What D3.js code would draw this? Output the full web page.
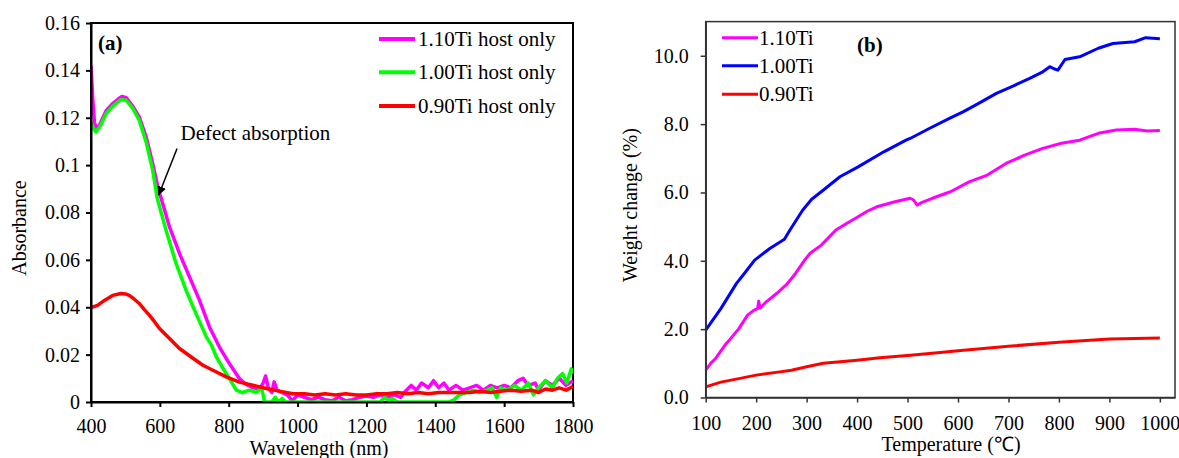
<!DOCTYPE html>
<html>
<head>
<meta charset="utf-8">
<title>Absorbance and weight change</title>
<script src="https://d3js.org/d3.v7.min.js"></script>
<style>
  body { margin: 0; background: #fff; }
  svg text { font-family: "Liberation Serif", "Times New Roman", serif; fill: #000; }
</style>
</head>
<body>
<script>
// ---- panel (a): absorbance vs wavelength ----
const waveTicks = [400, 600, 800, 1000, 1200, 1400, 1600, 1800];
const absTicks = [0, 0.02, 0.04, 0.06, 0.08, 0.1, 0.12, 0.14, 0.16];
const hostNames = ["1.10Ti host only", "1.00Ti host only", "0.90Ti host only"];

const host110 = [[400,0.142],[405,0.128],[410,0.118],[416,0.1155],[425,0.117],[444,0.123],[463,0.126],[480,0.128],
  [490,0.129],[502,0.1285],[521,0.1249],[540,0.1204],[560,0.112],[579,0.1007],[594,0.0908],[610,0.083],[628,0.0739],
  [657,0.0627],[686,0.0528],[715,0.043],[744,0.0317],[773,0.0232],[802,0.0162],[831,0.0099],[850,0.0075],[870,0.006],
  [890,0.0055],[900,0.008],[907,0.011],[915,0.006],[925,0.004],[932,0.0085],[940,0.005],[955,0.004],[970,0.003],
  [985,0.0005],[1000,0.003],[1020,0.002],[1040,0.001],[1060,0.002],[1080,0.001],[1100,0.0005],[1120,0.002],[1140,0.0005],
  [1160,0.001],[1180,0.002],[1200,0.0025],[1220,0.002],[1240,0.003],[1260,0.002],[1280,0.003],[1300,0.002],
  [1310,0.004],[1330,0.007],[1345,0.005],[1360,0.008],[1380,0.006],[1395,0.009],[1410,0.006],[1425,0.008],[1440,0.005],
  [1460,0.007],[1480,0.005],[1500,0.006],[1520,0.007],[1540,0.005],[1560,0.007],[1580,0.006],[1600,0.007],[1620,0.006],
  [1640,0.009],[1655,0.010],[1670,0.007],[1690,0.008],[1700,0.005],[1720,0.009],[1740,0.007],[1760,0.010],[1780,0.007],
  [1800,0.009]];

const host100 = [[400,0.118],[405,0.116],[414,0.114],[425,0.116],[444,0.1218],[463,0.1249],[487,0.1277],[502,0.1274],
  [521,0.124],[540,0.119],[560,0.1098],[579,0.098],[592,0.0862],[618,0.0725],[647,0.0585],[676,0.0472],[705,0.0373],
  [735,0.0275],[750,0.024],[764,0.019],[780,0.015],[793,0.012],[810,0.008],[822,0.005],[840,0.004],[860,0.005],
  [880,0.004],[895,0.006],[900,0.003],[904,0],[925,0],[935,0.002],[945,0],[955,0.0015],[965,0],[1240,0],[1253,0.002],
  [1265,0.0005],[1275,0.0015],[1290,0],[1440,0],[1455,0.001],[1470,0.003],[1490,0.004],[1510,0.005],[1530,0.004],
  [1550,0.005],[1565,0.006],[1578,0.002],[1590,0.006],[1610,0.005],[1630,0.007],[1650,0.005],[1670,0.008],[1685,0.003],
  [1700,0.006],[1720,0.009],[1740,0.006],[1755,0.010],[1770,0.012],[1782,0.008],[1795,0.014],[1800,0.012]];

const host090 = [[400,0.0399],[419,0.0408],[440,0.043],[463,0.045],[487,0.0458],[500,0.0456],[511,0.045],[525,0.0435],
  [540,0.0416],[555,0.039],[570,0.0366],[585,0.0338],[599,0.031],[628,0.0268],[657,0.0226],[691,0.019],[725,0.0155],
  [754,0.0134],[793,0.0106],[831,0.0084],[870,0.0071],[909,0.0057],[950,0.0045],[987,0.0035],[1020,0.0035],[1050,0.003],
  [1080,0.0035],[1110,0.003],[1140,0.0035],[1170,0.003],[1200,0.003],[1230,0.0035],[1260,0.0035],[1290,0.004],
  [1320,0.0035],[1350,0.004],[1380,0.0035],[1410,0.004],[1440,0.004],[1470,0.004],[1500,0.004],[1530,0.0045],
  [1560,0.004],[1590,0.0045],[1620,0.005],[1650,0.0045],[1680,0.005],[1700,0.004],[1720,0.0055],[1740,0.005],
  [1760,0.006],[1780,0.005],[1800,0.0065]];

// arrow annotation, in data units: tail, tip
const defectArrow = [[650,0.107],[596,0.0872]];
const defectLabel = [660, 0.1105];

// ---- panel (b): weight change vs temperature ----
const tempTicks = [100, 200, 300, 400, 500, 600, 700, 800, 900, 1000];
const weightTicks = [0, 2, 4, 6, 8, 10];
const tiNames = ["1.10Ti", "1.00Ti", "0.90Ti"];

const ti110 = [[100,0.80],[110,1.0],[120,1.15],[139,1.55],[148,1.7],[165,2.0],[183,2.41],[195,2.55],[203,2.6],[205,2.82],
  [208,2.62],[220,2.8],[241,3.05],[260,3.3],[278,3.63],[295,4.0],[307,4.22],[329,4.46],[345,4.7],[358,4.9],[380,5.1],
  [402,5.29],[420,5.45],[439,5.58],[475,5.73],[505,5.83],[512,5.78],[519,5.63],[530,5.72],[549,5.83],[585,6.02],
  [622,6.31],[658,6.51],[695,6.85],[732,7.09],[768,7.29],[805,7.44],[841,7.53],[878,7.73],[914,7.83],[950,7.85],
  [975,7.80],[1000,7.81]];

const ti100 = [[100,1.97],[130,2.6],[161,3.34],[175,3.6],[197,4.02],[227,4.36],[256,4.63],[267,4.9],[292,5.48],
  [310,5.8],[329,6.02],[366,6.46],[402,6.75],[453,7.19],[497,7.53],[505,7.58],[544,7.88],[585,8.18],[610,8.36],
  [640,8.6],[676,8.90],[710,9.12],[742,9.34],[768,9.53],[782,9.68],[790,9.62],[798,9.58],[812,9.89],[841,9.97],
  [878,10.22],[907,10.36],[950,10.41],[972,10.53],[1000,10.5]];

const ti090 = [[100,0.31],[130,0.45],[168,0.56],[200,0.655],[247,0.75],[270,0.8],[300,0.90],[333,1.0],[400,1.09],
  [445,1.16],[500,1.23],[565,1.32],[600,1.37],[700,1.50],[800,1.62],[900,1.71],[1000,1.74]];

const W = 1179, H = 458;
const serif = '"Liberation Serif", "Times New Roman", serif';
const svg = d3.select("body").append("svg")
    .attr("width", W)
    .attr("height", H)
    .attr("font-family", serif);
svg.append("rect").attr("width", W).attr("height", H).attr("fill", "#fff");

function styleAxis(a, col, sw) {
  a.attr("font-family", serif).attr("font-size", 20);
  a.select(".domain").attr("stroke", col).attr("stroke-width", sw);
  a.selectAll(".tick line").attr("stroke", col).attr("stroke-width", sw);
  a.selectAll("text").style("font-family", serif).style("font-size", "20px").attr("fill", "#000");
}

// ================= panel (a) =================
const xA = d3.scaleLinear().domain([400, 1800]).range([91, 573]);
const yA = d3.scaleLinear().domain([0, 0.16]).range([402, 23]);

const gA = svg.append("g");

gA.append("clipPath").attr("id", "clipA")
  .append("rect")
    .attr("x", xA(400)).attr("y", yA(0.16))
    .attr("width", xA(1800) - xA(400)).attr("height", yA(0) - yA(0.16));

gA.append("rect")
    .attr("x", xA(400)).attr("y", yA(0.16))
    .attr("width", xA(1800) - xA(400)).attr("height", yA(0) - yA(0.16))
    .attr("fill", "none").attr("stroke", "#000").attr("stroke-width", 2);

const lineA = d3.line().x(d => xA(d[0])).y(d => yA(d[1]));
const colorsA = ["#ff00ff", "#00ff00", "#ff0000"];
[host110, host100, host090].forEach((s, i) => {
  gA.append("path")
      .datum(s)
      .attr("clip-path", "url(#clipA)")
      .attr("fill", "none")
      .attr("stroke", colorsA[i])
      .attr("stroke-width", 3.5)
      .attr("stroke-linejoin", "round")
      .attr("d", lineA);
});

const axA = gA.append("g")
    .attr("transform", "translate(0," + yA(0) + ")")
    .call(d3.axisBottom(xA).tickValues(waveTicks).tickSize(5).tickSizeOuter(0).tickFormat(d => d));
axA.selectAll("text").attr("y", 31).attr("dy", 0);

const ayA = gA.append("g")
    .attr("transform", "translate(" + xA(400) + ",0)")
    .call(d3.axisLeft(yA).tickValues(absTicks).tickSize(5).tickSizeOuter(0)
      .tickFormat(d => +d.toFixed(2)).tickPadding(6));

styleAxis(axA, "#000", 2);
styleAxis(ayA, "#000", 2);

gA.append("text")
    .attr("transform", "translate(26," + 228 + ") rotate(-90)")
    .attr("text-anchor", "middle")
    .style("font-size", "20px")
    .text("Absorbance");

gA.append("text")
    .attr("x", 319).attr("y", 455)
    .attr("text-anchor", "middle")
    .style("font-size", "20px")
    .text("Wavelength (nm)");

gA.append("text")
    .attr("x", 98).attr("y", 50)
    .style("font-size", "21px").style("font-weight", "bold")
    .text("(a)");

// annotation
svg.append("defs").append("marker")
    .attr("id", "arrowhead")
    .attr("viewBox", "0 0 10 10")
    .attr("refX", 10).attr("refY", 5)
    .attr("markerWidth", 9).attr("markerHeight", 9)
    .attr("markerUnits", "userSpaceOnUse")
    .attr("orient", "auto")
  .append("path")
    .attr("d", "M0,0 L10,5 L0,10 Z")
    .attr("fill", "#000");

gA.append("line")
    .attr("x1", xA(defectArrow[0][0])).attr("y1", yA(defectArrow[0][1]))
    .attr("x2", xA(defectArrow[1][0])).attr("y2", yA(defectArrow[1][1]))
    .attr("stroke", "#000").attr("stroke-width", 1.5)
    .attr("marker-end", "url(#arrowhead)");

gA.append("text")
    .attr("x", xA(defectLabel[0])).attr("y", yA(defectLabel[1]))
    .style("font-size", "21px")
    .text("Defect absorption");

// legend (a)
const legA = gA.append("g");
const legAy = [39, 72.3, 106];
hostNames.forEach((name, i) => {
  legA.append("line")
      .attr("x1", 379).attr("x2", 415)
      .attr("y1", legAy[i]).attr("y2", legAy[i])
      .attr("stroke", colorsA[i]).attr("stroke-width", 4);
  legA.append("text")
      .attr("x", 418).attr("y", legAy[i]).attr("dy", "0.34em")
      .style("font-size", "21px")
      .text(name);
});

// ================= panel (b) =================
const xB = d3.scaleLinear().domain([100, 1030]).range([705.7, 1175]);
const yB = d3.scaleLinear().domain([0, 11]).range([397.5, 21.6]);

const gB = svg.append("g");

gB.append("rect")
    .attr("x", xB(100)).attr("y", yB(11))
    .attr("width", xB(1030) - xB(100)).attr("height", yB(0) - yB(11))
    .attr("fill", "none").attr("stroke", "#333").attr("stroke-width", 1.5);

const lineB = d3.line().x(d => xB(d[0])).y(d => yB(d[1]));
const colorsB = ["#ff00ff", "#0000ff", "#ff0000"];
[ti110, ti100, ti090].forEach((s, i) => {
  gB.append("path")
      .datum(s)
      .attr("fill", "none")
      .attr("stroke", colorsB[i])
      .attr("stroke-width", 3)
      .attr("stroke-linejoin", "round")
      .attr("d", lineB);
});

const axB = gB.append("g")
    .attr("transform", "translate(0," + yB(0) + ")")
    .call(d3.axisBottom(xB).tickValues(tempTicks).tickSize(5).tickSizeOuter(0).tickFormat(d => d));
axB.selectAll("text").attr("y", 32).attr("dy", 0);

const ayB = gB.append("g")
    .attr("transform", "translate(" + xB(100) + ",0)")
    .call(d3.axisLeft(yB).tickValues(weightTicks).tickSize(5).tickSizeOuter(0)
      .tickFormat(d3.format(".1f")).tickPadding(12));

styleAxis(axB, "#333", 1.5);
styleAxis(ayB, "#333", 1.5);

gB.append("text")
    .attr("transform", "translate(637," + 205 + ") rotate(-90)")
    .attr("text-anchor", "middle")
    .style("font-size", "20px")
    .text("Weight change (%)");

gB.append("text")
    .attr("x", 951).attr("y", 451)
    .attr("text-anchor", "middle")
    .style("font-size", "20px")
    .text("Temperature (\u2103)");

gB.append("text")
    .attr("x", 857).attr("y", 52)
    .style("font-size", "21px").style("font-weight", "bold")
    .text("(b)");

const legBy = [37.7, 65.7, 94.3];
tiNames.forEach((name, i) => {
  gB.append("line")
      .attr("x1", 722).attr("x2", 758)
      .attr("y1", legBy[i]).attr("y2", legBy[i])
      .attr("stroke", colorsB[i]).attr("stroke-width", 3);
  gB.append("text")
      .attr("x", 759).attr("y", legBy[i]).attr("dy", "0.34em")
      .style("font-size", "21px")
      .text(name);
});
</script>
</body>
</html>
